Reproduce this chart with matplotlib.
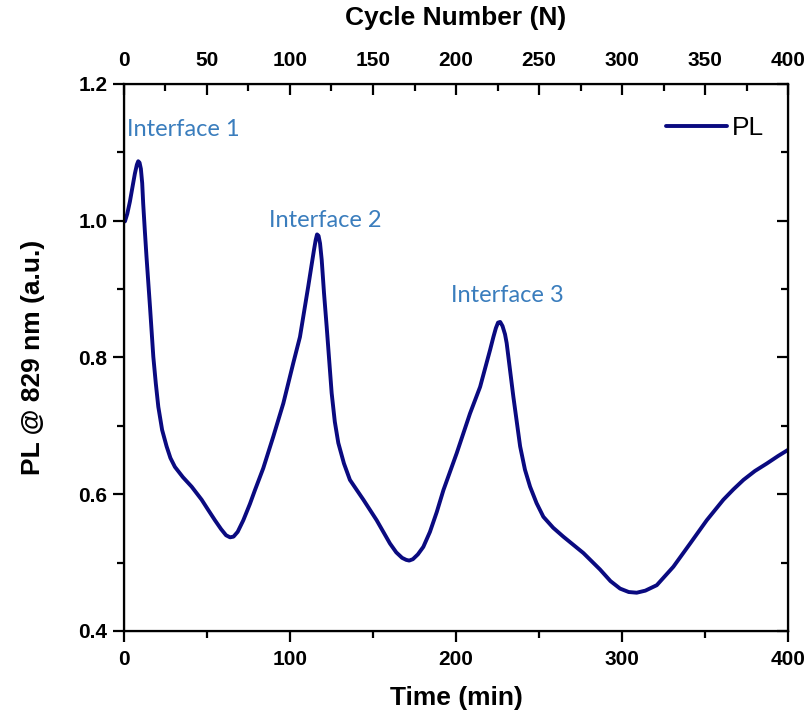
import matplotlib.pyplot as plt
from matplotlib.ticker import MultipleLocator, NullFormatter

# PL intensity at 829 nm over time
time_min = [0.6, 2.0, 3.6, 5.2, 6.6, 7.8, 8.6, 9.4, 10.2, 11.0, 11.6, 12.6, 13.6,
            15.7, 17.7, 19.2, 20.7, 23.0, 25.7, 28.0, 30.7, 35.5, 40.8, 46.8,
            50.5, 54.8, 58.5, 61.5, 63.9, 66.0, 68.5, 71.9, 75.9, 78.9, 83.9,
            89.9, 96.0, 102.0, 106.0, 111.0, 113.0, 114.5, 115.5, 116.3, 117.2,
            118.1, 119.1, 120.5, 122.1, 125.1, 127.0, 129.1, 132.5, 136.1, 140.0,
            144.2, 152.2, 160.2, 164.0, 167.5, 170.0, 171.8, 174.0, 177.0, 180.3,
            184.3, 188.4, 192.4, 200.4, 208.4, 214.5, 220.5, 222.5, 224.0, 225.3,
            226.6, 228.0, 229.5, 230.5, 232.5, 234.5, 238.6, 241.5, 244.6, 248.5,
            252.6, 258.5, 264.6, 276.7, 286.7, 293.0, 298.8, 304.0, 308.8, 314.0,
            320.9, 330.9, 341.0, 351.0, 361.0, 367.0, 373.1, 380.0, 387.2, 394.0,
            400.0]
pl = [0.999, 1.010, 1.028, 1.050, 1.069, 1.082, 1.087, 1.085, 1.076, 1.055,
      1.025, 0.985, 0.947, 0.874, 0.801, 0.762, 0.728, 0.694, 0.670, 0.653,
      0.640, 0.625, 0.611, 0.592, 0.578, 0.562, 0.549, 0.540, 0.537, 0.538,
      0.545, 0.562, 0.586, 0.606, 0.638, 0.684, 0.733, 0.792, 0.830, 0.904,
      0.935, 0.958, 0.972, 0.980, 0.978, 0.967, 0.943, 0.894, 0.845, 0.748,
      0.706, 0.675, 0.645, 0.621, 0.607, 0.592, 0.562, 0.528, 0.515, 0.507,
      0.504, 0.503, 0.505, 0.512, 0.523, 0.545, 0.574, 0.606, 0.660, 0.718,
      0.757, 0.811, 0.830, 0.843, 0.851, 0.852, 0.846, 0.834, 0.821, 0.782,
      0.743, 0.670, 0.636, 0.611, 0.587, 0.567, 0.551, 0.538, 0.514, 0.490,
      0.473, 0.462, 0.457, 0.456, 0.459, 0.467, 0.494, 0.528, 0.562, 0.592,
      0.607, 0.621, 0.634, 0.645, 0.656, 0.665]

interface_labels = ['Interface 1', 'Interface 2', 'Interface 3']
interface_t = [1.8, 121.0, 230.7]
interface_y = [1.133, 1.001, 0.891]
interface_ha = ['left', 'center', 'center']

plt.rcParams['font.family'] = ['Liberation Sans', 'DejaVu Sans']

fig = plt.figure(figsize=(8.1, 7.19), dpi=100)
ax = fig.add_axes([0.153, 0.1224, 0.820, 0.7608])

ax.plot(time_min, pl, color='#0a0a80', lw=2.8, label='PL',
        solid_joinstyle='round', solid_capstyle='round')

ax.set_xlim(0, 400)
ax.set_ylim(0.4, 1.2)
ax.xaxis.set_major_locator(MultipleLocator(100))
ax.xaxis.set_minor_locator(MultipleLocator(50))
ax.yaxis.set_major_locator(MultipleLocator(0.2))
ax.yaxis.set_minor_locator(MultipleLocator(0.1))
ax.tick_params(axis='both', which='major', direction='out', length=8, width=1.6,
               labelsize=15, pad=4)
ax.tick_params(axis='x', which='major', pad=6)
ax.tick_params(axis='both', which='minor', direction='out', length=5, width=1.6)
for lab in ax.get_xticklabels() + ax.get_yticklabels():
    lab.set_fontweight('bold')
for s in ax.spines.values():
    s.set_linewidth(1.6)

ax.set_xlabel('Time (min)', fontsize=19, fontweight='bold', labelpad=12)
ax.set_ylabel('PL @ 829 nm (a.u.)', fontsize=19, fontweight='bold', labelpad=24)

# right side: inward ticks only
right = ax.twinx()
right.set_ylim(0.4, 1.2)
right.yaxis.set_major_locator(MultipleLocator(0.2))
right.yaxis.set_minor_locator(MultipleLocator(0.1))
right.yaxis.set_major_formatter(NullFormatter())
right.tick_params(axis='y', which='major', direction='in', length=8, width=1.6)
right.tick_params(axis='y', which='minor', direction='in', length=5, width=1.6)

# top axis: cycle number
top = ax.twiny()
top.set_xlim(0, 400)
top.xaxis.set_major_locator(MultipleLocator(50))
top.xaxis.set_minor_locator(MultipleLocator(25))
top.tick_params(axis='x', which='major', direction='in', length=8, width=1.6,
                labelsize=15, pad=10)
top.tick_params(axis='x', which='minor', direction='in', length=5, width=1.6)
for lab in top.get_xticklabels():
    lab.set_fontweight('bold')
top.set_xlabel('Cycle Number (N)', fontsize=19, fontweight='bold', labelpad=19)

for txt, t, y, ha in zip(interface_labels, interface_t, interface_y, interface_ha):
    ax.text(t, y, txt, color='#3a7dbd', fontsize=17, ha=ha, va='center',
            family=['Lato', 'DejaVu Sans'])

leg = ax.legend(loc='upper right', frameon=False, fontsize=19, handlelength=2.3,
                handletextpad=0.2, bbox_to_anchor=(1.0, 0.985))

fig.savefig('out.png', dpi=100)
